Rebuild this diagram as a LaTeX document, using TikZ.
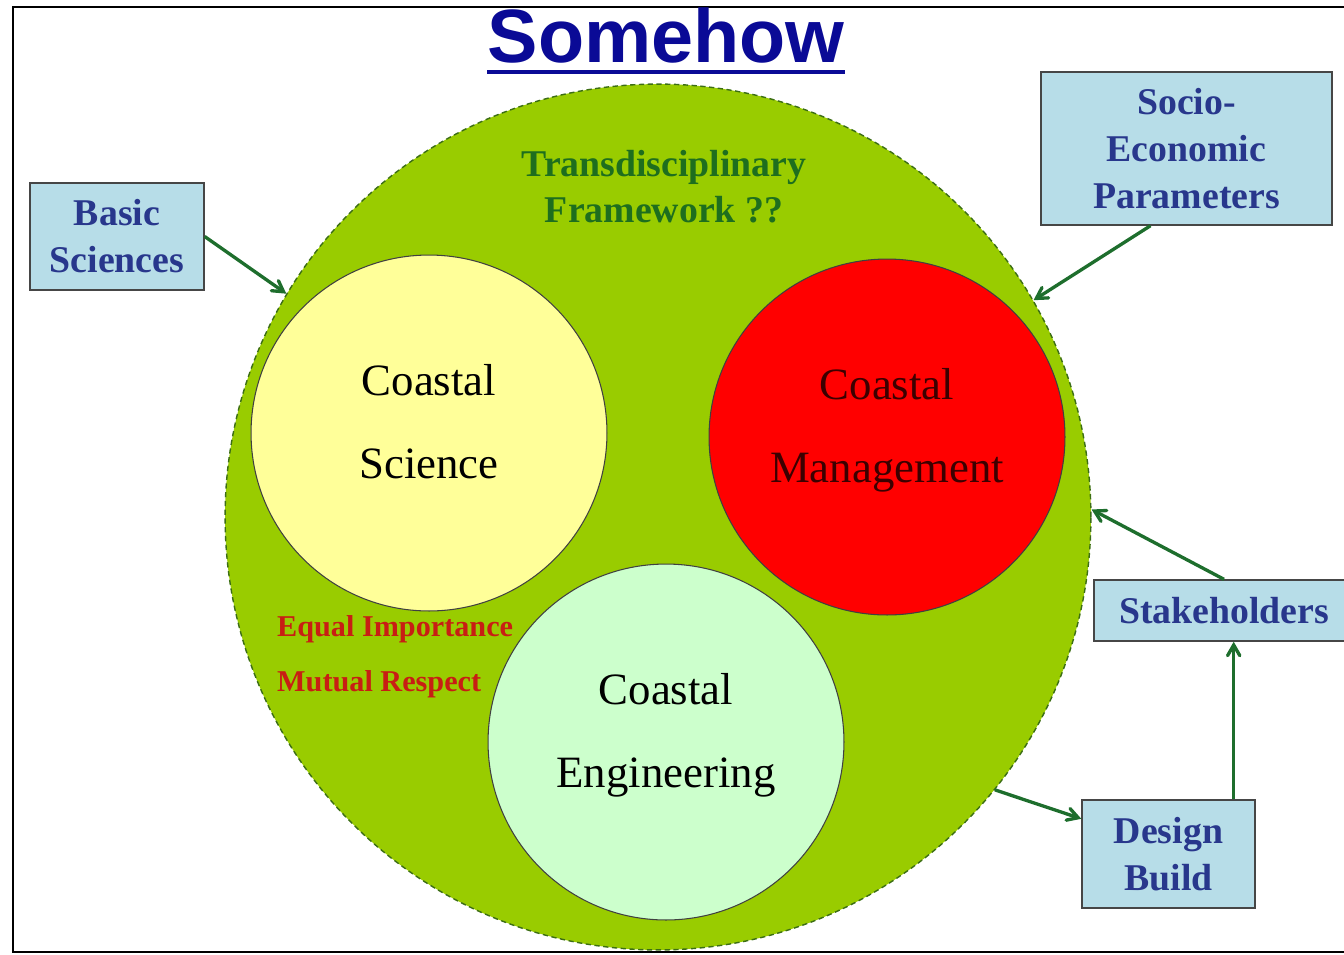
\documentclass[tikz,border=0pt]{standalone}
\usepackage{fontspec}
\setmainfont{Liberation Serif}
\newfontfamily\titlefont{Liberation Sans}
\usetikzlibrary{arrows}

\definecolor{fieldgreen}{RGB}{153,204,0}
\definecolor{rimgreen}{RGB}{60,110,20}
\definecolor{flowgreen}{RGB}{30,110,45}
\definecolor{tdgreen}{RGB}{30,110,30}
\definecolor{boxfill}{RGB}{183,221,232}
\definecolor{boxline}{RGB}{70,70,70}
\definecolor{boxtext}{RGB}{40,55,140}
\definecolor{titleblue}{RGB}{10,10,150}
\definecolor{mottored}{RGB}{200,30,20}
\definecolor{sciyellow}{RGB}{255,255,153}
\definecolor{engmint}{RGB}{204,255,204}
\definecolor{mgmttext}{RGB}{60,0,0}

\tikzset{
	box/.style={draw=boxline, fill=boxfill, line width=0.8pt, align=center, inner sep=0pt,
		text=boxtext, font=\fontsize{21.5}{26.8}\selectfont\bfseries},
	disc/.style={circle, draw=black!75, line width=0.6pt, inner sep=0pt, minimum size=7.12cm,
		align=center, text depth=13pt, font=\fontsize{25.5}{47}\selectfont},
	flow/.style={->, >=angle 60, draw=flowgreen, line width=1.9pt},
}

\begin{document}
\begin{tikzpicture}[x=0.02cm, y=-0.02cm]
	\useasboundingbox (0,0) rectangle (1344,954);
	\draw[line width=1.1pt] (13,7) rectangle (1360,952);

	\node[circle, fill=fieldgreen, draw=rimgreen, densely dashed, line width=0.8pt,
		minimum size=17.32cm, inner sep=0pt] (field) at (658,517) {};

	\node[inner sep=0pt, text=titleblue, font=\titlefont\fontsize{43}{43}\selectfont\bfseries,
		anchor=base] (title) at (666,62) {Somehow};
	\draw[titleblue, line width=2.2pt] ([yshift=-0.2cm]title.base west) -- ([yshift=-0.2cm]title.base east);

	\node[align=center, text=tdgreen, font=\fontsize{21.5}{26.2}\selectfont\bfseries] (tdf) at (664,187)
		{Transdisciplinary\\Framework ??};

	\node[disc, fill=sciyellow, text=black] (science) at (429,433) {Coastal\\Science};
	\node[disc, fill=red, text=mgmttext] (manage) at (887,437) {Coastal\\Management};
	\node[disc, fill=engmint, text=black] (engineer) at (666,742) {Coastal\\Engineering};

	\node[anchor=west, align=left, text=mottored, font=\fontsize{17.2}{31.3}\selectfont\bfseries] (motto)
		at (271,657) {Equal Importance\\Mutual Respect};

	\node[box, minimum width=3.48cm, minimum height=2.14cm] (basic) at (117,236.5) {Basic\\Sciences};
	\node[box, minimum width=5.82cm, minimum height=3.06cm] (socio) at (1186.5,148.5) {Socio-\\Economic\\Parameters};
	\node[box, minimum width=5.2cm, minimum height=1.22cm] (stake) at (1224,610.5) {Stakeholders};
	\node[box, minimum width=3.46cm, minimum height=2.16cm] (design) at (1168.5,854) {Design\\Build};

	\path (basic.east) edge[flow] (field.149);
	\path (socio.245) edge[flow] (field.30);
	\path (stake.north) edge[flow] (field.1);
	\path (field.-39) edge[flow] (design.158);
	\path (design.40) edge[flow] (design.40 |- stake.south);
\end{tikzpicture}
\end{document}
